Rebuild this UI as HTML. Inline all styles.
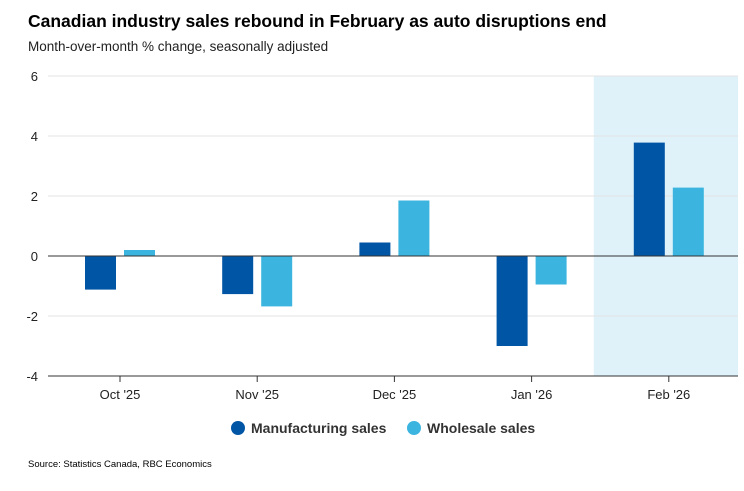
<!DOCTYPE html>
<html><head><meta charset="utf-8"><style>
body{margin:0;background:#fff;font-family:"Liberation Sans",Arial,sans-serif;}
</style></head><body>
<svg width="744" height="486" xmlns="http://www.w3.org/2000/svg" font-family="Liberation Sans, Arial, sans-serif">
<text x="28" y="27" font-size="17.5" font-weight="bold" fill="#000">Canadian industry sales rebound in February as auto disruptions end</text>
<text x="28" y="51" font-size="13.5" fill="#222">Month-over-month % change, seasonally adjusted</text>
<g id="plot"></g>
<g>
<circle cx="238" cy="428" r="7" fill="#0055a5"/>
<text x="251" y="433" font-size="14" font-weight="bold" fill="#333">Manufacturing sales</text>
<circle cx="414" cy="428" r="7" fill="#3bb5e0"/>
<text x="427" y="433" font-size="14" font-weight="bold" fill="#333">Wholesale sales</text>
</g>
<text x="28" y="467" font-size="9.5" fill="#000">Source: Statistics Canada, RBC Economics</text>
</svg>
<script>
const categories=["Oct '25","Nov '25","Dec '25","Jan '26","Feb '26"];
const manufacturing=[-1.12,-1.27,0.45,-3.0,3.78];
const wholesale=[0.2,-1.68,1.85,-0.95,2.28];
const yTicks=[-4,-2,0,2,4,6];
const NS="http://www.w3.org/2000/svg";
const g=document.getElementById('plot');
const x0=48,x1=738,yTop=76,yBot=376,ymin=-4,ymax=6;
const y=v=>yBot-(v-ymin)/(ymax-ymin)*(yBot-yTop);
const cx=i=>120+i*137.2;
function mk(t,a){const e=document.createElementNS(NS,t);for(const k in a)e.setAttribute(k,a[k]);g.appendChild(e);return e;}
const hl=mk('rect',{x:cx(4)-75,y:yTop,width:x1-(cx(4)-75),height:yBot-yTop,fill:'#dff2f9'});


yTicks.forEach(t=>{
 if(t!==0&&t!==ymin){const l=mk('line',{x1:x0,x2:x1,y1:y(t),y2:y(t),stroke:'#e3e3e3','stroke-width':1});
 
 }
 const tx=mk('text',{x:38,y:y(t)+5,'font-size':13,'text-anchor':'end',fill:'#222'});tx.textContent=t;
 
 
});
const bw=31;
categories.forEach((c,i)=>{
 [[manufacturing[i],'#0055a5',-35],[wholesale[i],'#3bb5e0',4]].forEach(([v,col,off],j)=>{
  const r=mk('rect',{x:cx(i)+off,y:Math.min(y(v),y(0)),width:bw,height:Math.abs(y(v)-y(0)),fill:col});
  
  
 });
 const tk=mk('line',{x1:cx(i),x2:cx(i),y1:yBot,y2:yBot+6,stroke:'#333'});
 
 
 const tx=mk('text',{x:cx(i),y:yBot+23,'font-size':13,'text-anchor':'middle',fill:'#222'});tx.textContent=c;
 
 
});
const z=mk('line',{x1:x0,x2:x1,y1:y(0),y2:y(0),stroke:'#333','stroke-width':1});


const ax=mk('line',{x1:x0,x2:x1,y1:yBot,y2:yBot,stroke:'#333','stroke-width':1});


</script>
</body></html>
